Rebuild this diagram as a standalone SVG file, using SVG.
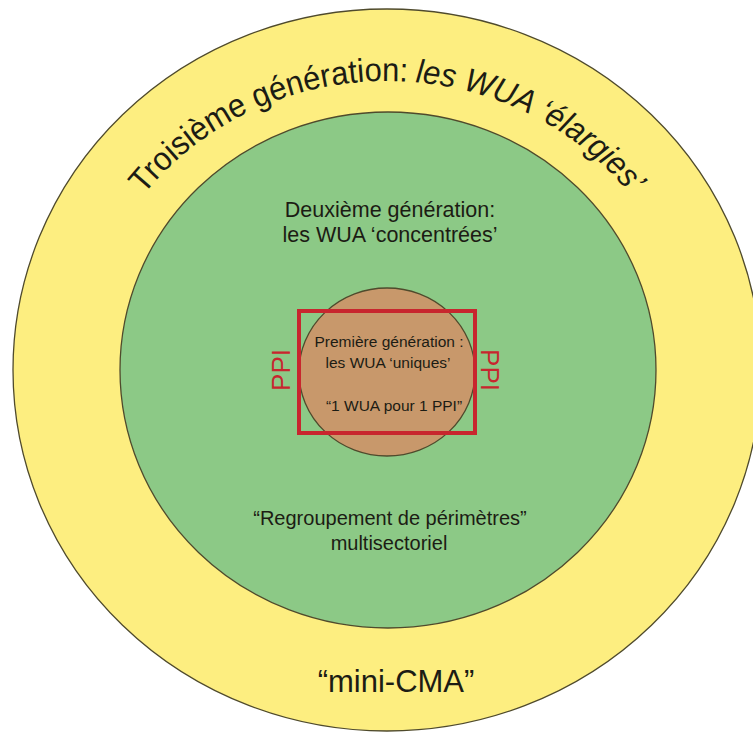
<svg xmlns="http://www.w3.org/2000/svg" width="753" height="733" viewBox="0 0 753 733">
  <style>
    .ring { stroke: #4f4a2c; stroke-width: 1.3; }
    .lbl { font-family: "Liberation Sans", Arial, sans-serif; fill: #1c1c14; text-anchor: middle; }
    .arc { font-family: "Liberation Sans", Arial, sans-serif; fill: #1c1c14; font-size: 33px; }
    .ppi { font-family: "Liberation Sans", Arial, sans-serif; fill: #c8262e; font-size: 26px; text-anchor: middle; }
  </style>
  <defs>
    <path id="arc3" d="M 81 370 A 306 289 0 0 1 693 370"/>
  </defs>
  <rect width="753" height="733" fill="#ffffff"/>

  <g id="gen3">
    <ellipse class="ring" cx="387" cy="370" rx="374" ry="361" fill="#fdee80"/>
    <text class="arc">
      <textPath href="#arc3" startOffset="190" textLength="298" lengthAdjust="spacingAndGlyphs">Troisième génération:</textPath>
    </text>
    <text class="arc" font-style="italic">
      <textPath href="#arc3" startOffset="495.5" textLength="249" lengthAdjust="spacingAndGlyphs">les WUA ‘élargies’</textPath>
    </text>
    <text class="lbl" x="396" y="692" font-size="31">“mini-CMA”</text>
  </g>

  <g id="gen2">
    <ellipse class="ring" cx="388" cy="370" rx="268" ry="258" fill="#8cc986"/>
    <text class="lbl" x="390" y="217" font-size="21.5">Deuxième génération:</text>
    <text class="lbl" x="390" y="242" font-size="21.5">les WUA ‘concentrées’</text>
    <text class="lbl" x="390" y="525" font-size="20">“Regroupement de périmètres”</text>
    <text class="lbl" x="389" y="550" font-size="20">multisectoriel</text>
  </g>

  <g id="gen1">
    <ellipse class="ring" cx="387" cy="372" rx="88" ry="84" fill="#c8986b"/>
    <text class="lbl" x="389" y="347" font-size="15.5">Première génération :</text>
    <text class="lbl" x="388" y="368" font-size="15.5">les WUA ‘uniques’</text>
    <text class="lbl" x="394" y="411" font-size="15.5">“1 WUA pour 1 PPI”</text>
  </g>

  <g id="ppi">
    <rect x="299" y="311" width="176" height="122" fill="none" stroke="#c8262e" stroke-width="4"/>
    <text class="ppi" transform="translate(290 370) rotate(-90)">PPI</text>
    <text class="ppi" transform="translate(481 370) rotate(90)">PPI</text>
  </g>
</svg>
